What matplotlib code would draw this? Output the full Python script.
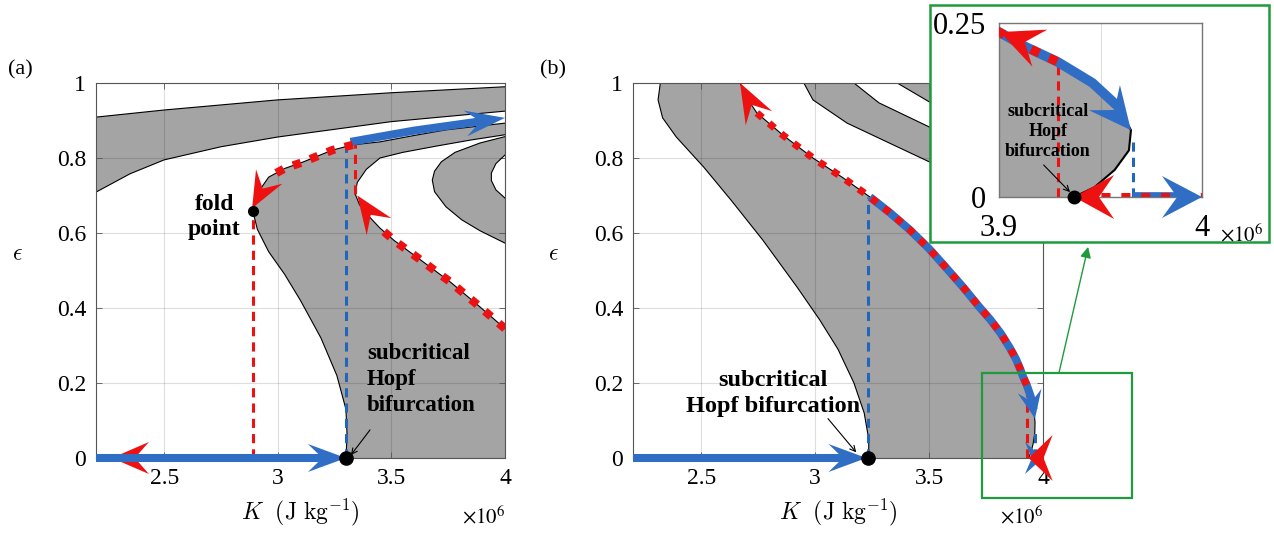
import numpy as np
import matplotlib
matplotlib.use("Agg")
import matplotlib.pyplot as plt
from matplotlib.patches import Polygon, Rectangle
from matplotlib.transforms import IdentityTransform

plt.rcParams['font.family'] = ['Liberation Serif', 'DejaVu Serif']
plt.rcParams['mathtext.fontset'] = 'cm'

GRAY = '#a4a4a4'
BLUE = '#2f6ec4'
RED = '#ee1111'
GREEN = '#1f9a3c'

# --------------------------
# panel (a): boundary curves (K in 1e6 J/kg, epsilon)
# --------------------------
A_TOP1_K = [2.2, 2.5, 3.0, 3.5, 4.0]
A_TOP1_E = [0.909, 0.928, 0.955, 0.974, 0.99]
A_TOP2_K = [2.2, 2.35, 2.5, 2.75, 3.0, 3.5, 4.0]
A_TOP2_E = [0.709, 0.758, 0.795, 0.83, 0.856, 0.897, 0.925]
# S-shaped branch: Hopf -> fold, then fold -> right edge
A_LO_K = [3.30, 3.305, 3.30, 3.26, 3.19, 3.10, 3.03, 2.96, 2.91, 2.89]
A_LO_E = [0.0, 0.06, 0.13, 0.22, 0.32, 0.42, 0.49, 0.55, 0.61, 0.659]
A_UP_K = [2.89, 2.91, 2.93, 2.96, 3.03, 3.11, 3.24, 3.33, 3.45, 3.6, 3.74, 4.0]
A_UP_E = [0.659, 0.695, 0.723, 0.749, 0.772, 0.789, 0.821, 0.835, 0.843, 0.86, 0.875, 0.893]
# nested tongues opening to the right (white / gray / white)
A_C1_K = [4.0, 3.85, 3.7, 3.55, 3.45, 3.39, 3.35, 3.34, 3.36, 3.40, 3.45, 3.51, 3.64, 3.76, 3.88, 4.0]
A_C1_E = [0.862, 0.848, 0.832, 0.815, 0.80, 0.77, 0.735, 0.705, 0.675, 0.645, 0.613, 0.581, 0.523, 0.469, 0.408, 0.345]
A_C2_K = [4.0, 3.89, 3.78, 3.72, 3.69, 3.68, 3.69, 3.74, 3.81, 3.89, 4.0]
A_C2_E = [0.857, 0.84, 0.815, 0.79, 0.765, 0.741, 0.71, 0.67, 0.635, 0.606, 0.573]
A_C3_K = [4.0, 3.96, 3.94, 3.94, 3.96, 4.0]
A_C3_E = [0.808, 0.785, 0.76, 0.74, 0.715, 0.693]
A_JUMP_K = [3.32, 3.6, 4.0]
A_JUMP_E = [0.843, 0.873, 0.907]
A_FOLD = (2.89, 0.659)
A_HOPF = (3.30, 0.0)

# --------------------------
# panel (b): boundary curves
# --------------------------
B_L_K = [2.32, 2.31, 2.33, 2.39, 2.51, 2.63, 2.77, 2.92, 3.02, 3.10, 3.17, 3.215, 3.235, 3.235]
B_L_E = [1.0, 0.955, 0.907, 0.856, 0.776, 0.688, 0.581, 0.456, 0.368, 0.29, 0.2, 0.12, 0.05, 0.0]
B_R_K = [2.67, 2.70, 2.744, 2.86, 2.99, 3.12, 3.24, 3.33, 3.416, 3.50, 3.578, 3.65, 3.72, 3.77,
         3.815, 3.855, 3.882, 3.90, 3.913, 3.929, 3.946, 3.959, 3.965, 3.964, 3.957, 3.947, 3.937]
B_R_E = [1.0, 0.96, 0.92, 0.86, 0.80, 0.748, 0.696, 0.653, 0.608, 0.558, 0.505, 0.455, 0.403, 0.368,
         0.332, 0.293, 0.263, 0.237, 0.216, 0.194, 0.164, 0.129, 0.096, 0.067, 0.039, 0.014, 0.0]
B_BAND2_LO_K = [2.95, 2.99, 3.14, 3.36, 3.50, 3.75, 4.0]
B_BAND2_LO_E = [1.0, 0.955, 0.893, 0.83, 0.79, 0.73, 0.68]
B_BAND2_UP_K = [3.17, 3.28, 3.50, 3.75, 4.0]
B_BAND2_UP_E = [1.0, 0.947, 0.883, 0.83, 0.78]
B_BAND3_K = [3.36, 3.50, 3.75, 4.0]
B_BAND3_E = [1.0, 0.95, 0.90, 0.86]
B_HOPF = (3.233, 0.0)
B_DROP = (3.929, 0.194)      # where the red branch leaves the curve
B_BLUE_END = (3.946, 0.164)

XTICKS = [2.5, 3.0, 3.5, 4.0]
XTICKLABELS = ['2.5', '3', '3.5', '4']
YTICKS = [0, 0.2, 0.4, 0.6, 0.8, 1.0]
YTICKLABELS = ['0', '0.2', '0.4', '0.6', '0.8', '1']


def seg(k, e, e_lo, e_hi):
    """part of a curve (monotonic in eps) with e_lo <= eps <= e_hi"""
    pts = [(a, b) for a, b in zip(k, e) if e_lo - 1e-9 <= b <= e_hi + 1e-9]
    return [p[0] for p in pts], [p[1] for p in pts]


def head(ax, tip, base, L, W, color, z=6):
    """MATLAB-like arrow head, sizes in pixels"""
    t = ax.transData.transform(tip)
    b = ax.transData.transform(base)
    d = (t - b) / np.hypot(*(t - b))
    n = np.array([-d[1], d[0]])
    pts = [t, t - L * d + 0.5 * W * n, t - 0.62 * L * d, t - L * d - 0.5 * W * n]
    ax.add_patch(Polygon(pts, closed=True, transform=IdentityTransform(),
                         fc=color, ec='none', zorder=z, clip_on=False))


def red_dots(ax, k, e, lw=6):
    ax.plot(k, e, color=RED, lw=lw, linestyle=(0, (1, 1.2)),
            dash_capstyle='butt', solid_joinstyle='round', zorder=4)


def style_axes(ax):
    ax.set_xlim(2.2, 4.0)
    ax.set_ylim(0, 1)
    ax.set_xticks(XTICKS)
    ax.set_xticklabels(XTICKLABELS)
    ax.set_yticks(YTICKS)
    ax.set_yticklabels(YTICKLABELS)
    ax.tick_params(direction='in', length=4, width=0.6, color='#555555',
                   labelsize=17, pad=7, top=True, right=True)
    ax.grid(True, color='k', alpha=0.13, lw=0.8)
    ax.set_axisbelow('line')
    for s in ax.spines.values():
        s.set_color('#555555')
        s.set_linewidth(0.8)
    ax.text(0.5, -0.145, r'$K\ \ (\mathrm{J\ kg}^{-1})$', transform=ax.transAxes,
            ha='center', va='center', fontsize=17)
    ax.text(-0.193, 0.541, r'$\epsilon$', transform=ax.transAxes,
            ha='center', va='center', fontsize=17)
    ax.text(1.0, -0.158, r'$\times10^{6}$', transform=ax.transAxes, ha='right',
            va='center', fontsize=15, math_fontfamily='stix')


fig = plt.figure(figsize=(12.74, 5.35), dpi=100)
W, H = 1274, 535
ax_a = fig.add_axes([96 / W, 1 - 458 / H, 409 / W, 375 / H])
ax_b = fig.add_axes([633 / W, 1 - 458 / H, 410 / W, 375 / H])
style_axes(ax_a)
style_axes(ax_b)

# ---------------- panel (a) ----------------
ax = ax_a
ax.fill(A_TOP1_K + A_TOP2_K[::-1], A_TOP1_E + A_TOP2_E[::-1], color=GRAY, zorder=1, lw=0)
ax.fill(A_LO_K + A_UP_K + [4.0], A_LO_E + A_UP_E + [0.0], color=GRAY, zorder=1, lw=0)
ax.fill(A_C1_K, A_C1_E, color='white', zorder=1.1, lw=0)
ax.fill(A_C2_K, A_C2_E, color=GRAY, zorder=1.2, lw=0)
ax.fill(A_C3_K, A_C3_E, color='white', zorder=1.3, lw=0)
for k, e in [(A_TOP1_K, A_TOP1_E), (A_TOP2_K, A_TOP2_E), (A_LO_K, A_LO_E),
             (A_UP_K, A_UP_E), (A_C1_K, A_C1_E), (A_C2_K, A_C2_E), (A_C3_K, A_C3_E)]:
    ax.plot(k, e, color='k', lw=0.8, zorder=2)

ax.plot([A_FOLD[0]] * 2, [0, A_FOLD[1] - 0.005], color=RED, lw=2.2, ls=(0, (3, 2)), zorder=3)
ax.plot([A_HOPF[0]] * 2, [0, 0.84], color='#2266bb', lw=2.2, ls=(0, (3, 2)), zorder=3)
ax.plot([3.34] * 2, [0.705, 0.84], color=RED, lw=2.2, ls=(0, (3, 2)), zorder=3)

head(ax, (2.27, 0.0), (2.5, 0.0), 37, 32, RED, z=2.5)
ax.plot([2.2, 3.22], [0, 0], color=BLUE, lw=5.8, solid_capstyle='butt', zorder=3, clip_on=False)
head(ax, A_HOPF, (3.0, 0.0), 38, 28, BLUE)
ax.plot(A_JUMP_K[:-1] + [3.93], A_JUMP_E[:-1] + [0.901], color=BLUE, lw=5.8,
        solid_capstyle='butt', zorder=3)
head(ax, (A_JUMP_K[-1], A_JUMP_E[-1]), (A_JUMP_K[1], A_JUMP_E[1]), 40, 26, BLUE)
red_dots(ax, A_UP_K[3:8][::-1], A_UP_E[3:8][::-1])
head(ax, (2.887, 0.666), (2.961, 0.749), 36, 30, RED)
red_dots(ax, A_C1_K[10:][::-1], A_C1_E[10:][::-1])
head(ax, (3.35, 0.70), (3.45, 0.613), 38, 30, RED)
ax.plot(*A_FOLD, 'o', color='k', ms=7, zorder=7)
ax.plot(*A_HOPF, 'o', color='k', ms=9.5, zorder=7, clip_on=False)

ax.text(2.72, 0.643, 'fold\npoint', ha='center', va='center', fontsize=17,
        fontweight='bold', linespacing=1.25)
ax.text(3.393, 0.21, 'subcritical\nHopf\nbifurcation', ha='left', va='center',
        fontsize=16.5, fontweight='bold', linespacing=1.3)
ax.annotate('', xy=(3.322, 0.008), xytext=(3.406, 0.075),
            arrowprops=dict(arrowstyle='->', lw=0.8, color='k', shrinkA=0, shrinkB=0))


# ---------------- panel (b) ----------------
def draw_b_regions(ax, blw):
    ax.fill(B_L_K + B_R_K[::-1], B_L_E + B_R_E[::-1], color=GRAY, zorder=1, lw=0)
    ax.fill(B_BAND2_LO_K + B_BAND2_UP_K[::-1], B_BAND2_LO_E + B_BAND2_UP_E[::-1],
            color=GRAY, zorder=1, lw=0)
    ax.fill(B_BAND3_K + [4.0], B_BAND3_E + [1.0], color=GRAY, zorder=1, lw=0)
    for k, e in [(B_L_K, B_L_E), (B_R_K, B_R_E), (B_BAND2_LO_K, B_BAND2_LO_E),
                 (B_BAND2_UP_K, B_BAND2_UP_E), (B_BAND3_K, B_BAND3_E)]:
        ax.plot(k, e, color='k', lw=blw, zorder=2)


def draw_b_paths(ax, lw_blue, lw_red):
    ax.plot([B_DROP[0]] * 2, [0, B_DROP[1]], color=RED, lw=2.2, ls=(0, (3, 2)), zorder=3)
    ax.plot([3.966] * 2, [0, 0.08], color='#2266bb', lw=2.2, ls=(0, (3, 2)), zorder=3)
    ax.plot([B_HOPF[0]] * 2, [0, 0.696], color='#2266bb', lw=2.2, ls=(0, (3, 2)), zorder=3)
    bk, be = seg(B_R_K, B_R_E, 0.129, 0.696)
    ax.plot(bk, be, color=BLUE, lw=lw_blue, zorder=3,
            solid_capstyle='butt', solid_joinstyle='round')
    ax.plot([3.966, 3.99], [0, 0], color=BLUE, lw=lw_blue, zorder=3, solid_capstyle='butt')
    rk, re = seg(B_R_K, B_R_E, B_DROP[1], 0.92)
    red_dots(ax, rk, re, lw=lw_red)
    red_dots(ax, [3.95, 4.0], [0, 0], lw=lw_red)


ax = ax_b
draw_b_regions(ax, 0.8)
draw_b_paths(ax, 5.8, 5.2)
ax.plot([2.2, 3.15], [0, 0], color=BLUE, lw=5.8, solid_capstyle='butt', zorder=3, clip_on=False)
head(ax, (3.225, 0.0), (3.0, 0.0), 38, 28, BLUE)
head(ax, (2.67, 1.0), (2.745, 0.915), 40, 30, RED)
head(ax, (3.965, 0.105), B_BLUE_END, 28, 24, BLUE)
head(ax, (4.0, 0.0), (3.966, 0.0), 18, 32, BLUE)
head(ax, (3.937, 0.0), (4.0, 0.0), 24, 46, RED, z=6.5)
ax.plot(*B_HOPF, 'o', color='k', ms=9.5, zorder=7, clip_on=False)
ax.text(2.815, 0.173, 'subcritical\nHopf bifurcation', ha='center', va='center',
        fontsize=17.5, fontweight='bold', linespacing=1.3)
ax.annotate('', xy=(3.18, 0.015), xytext=(3.056, 0.105),
            arrowprops=dict(arrowstyle='->', lw=0.8, color='k', shrinkA=0, shrinkB=0))

# zoom box and connector
ax.add_patch(Rectangle((3.732, -0.107), 0.659, 0.334, fill=False, ec=GREEN, lw=1.6,
                       zorder=8, clip_on=False))
ax.annotate('', xy=(4.198, 0.563), xytext=(4.07, 0.227), annotation_clip=False,
            arrowprops=dict(arrowstyle='-|>', lw=1.0, color=GREEN, shrinkA=0, shrinkB=0,
                            mutation_scale=16))

fig.text(8 / W, 1 - 70 / H, '(a)', fontsize=16, va='center')
fig.text(540 / W, 1 - 70 / H, '(b)', fontsize=16, va='center')

# ---------------- inset ----------------
fig.patches.append(Rectangle((930 / W, 1 - 242 / H), 339 / W, 237 / H, transform=fig.transFigure,
                             fc='white', ec=GREEN, lw=1.8, zorder=1, figure=fig))
ax_i = fig.add_axes([999 / W, 1 - 197 / H, 203 / W, 174 / H], zorder=3)
ax_i.set_xlim(3.9, 4.0)
ax_i.set_ylim(0, 0.25)
ax_i.set_xticks([3.9, 3.95, 4.0])
ax_i.set_xticklabels(['3.9', '', '4'])
ax_i.set_yticks([0, 0.25])
ax_i.set_yticklabels(['0', '0.25'])
ax_i.tick_params(length=0, labelsize=22, pad=9)
ax_i.tick_params(axis='x', pad=12)
ax_i.grid(True, color='k', alpha=0.13, lw=0.8)
ax_i.set_axisbelow('line')
for s in ax_i.spines.values():
    s.set_color('#777777')
    s.set_linewidth(1.0)
draw_b_regions(ax_i, 1.5)
draw_b_paths(ax_i, 7.0, 6.5)
head(ax_i, (3.9005, 0.237), (3.92, 0.214), 43, 40, RED)
head(ax_i, (3.965, 0.096), B_BLUE_END, 42, 40, BLUE)
head(ax_i, (4.0, 0.0), (3.966, 0.0), 40, 42, BLUE)
head(ax_i, (3.937, 0.0), (4.0, 0.0), 40, 44, RED, z=6.5)
ax_i.plot(3.937, 0.0, 'o', color='k', ms=9, zorder=7, clip_on=False)
ax_i.text(3.924, 0.094, 'subcritical\nHopf\nbifurcation', ha='center', va='center',
          fontsize=13, fontweight='bold', linespacing=1.25, zorder=8)
ax_i.annotate('', xy=(3.935, 0.007), xytext=(3.922, 0.046),
              arrowprops=dict(arrowstyle='->', lw=0.8, color='k', shrinkA=0, shrinkB=0))
ax_i.text(1.09, -0.22, r'$\times10^{6}$', transform=ax_i.transAxes, ha='left',
          va='center', fontsize=15, math_fontfamily='stix')

fig.savefig('out.png', dpi=100)
